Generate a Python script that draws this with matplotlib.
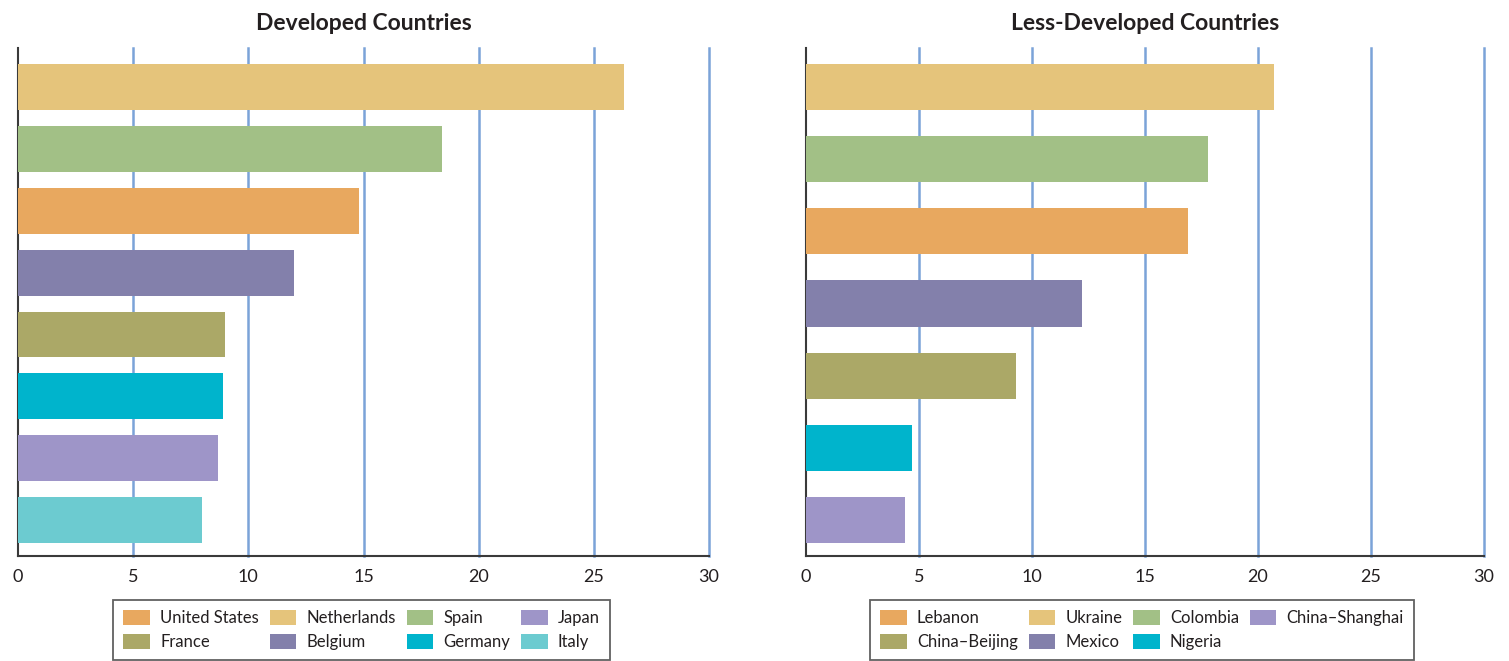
import matplotlib
matplotlib.use("Agg")
import matplotlib.pyplot as plt
from matplotlib.patches import Patch

plt.rcParams['font.family'] = ['Lato', 'DejaVu Sans']

# Data (top to bottom)
dev_countries = ["Netherlands", "Spain", "United States", "Belgium", "France", "Germany", "Japan", "Italy"]
dev_values = [26.3, 18.4, 14.8, 12.0, 9.0, 8.9, 8.7, 8.0]
less_countries = ["Ukraine", "Colombia", "Lebanon", "Mexico", "China\u2013Beijing", "Nigeria", "China\u2013Shanghai"]
less_values = [20.7, 17.8, 16.9, 12.2, 9.3, 4.7, 4.4]

dev_legend_order = ["United States", "France", "Netherlands", "Belgium", "Spain", "Germany", "Japan", "Italy"]
less_legend_order = ["Lebanon", "China\u2013Beijing", "Ukraine", "Mexico", "Colombia", "Nigeria", "China\u2013Shanghai"]

colors = {
    "United States": "#E8A85F", "Lebanon": "#E8A85F",
    "Netherlands": "#E5C47B", "Ukraine": "#E5C47B",
    "Spain": "#A2C086", "Colombia": "#A2C086",
    "Japan": "#9E95C8", "China\u2013Shanghai": "#9E95C8",
    "France": "#ABA867", "China\u2013Beijing": "#ABA867",
    "Belgium": "#8380AB", "Mexico": "#8380AB",
    "Germany": "#00B4CC", "Nigeria": "#00B4CC",
    "Italy": "#6CCBD0",
}
ticks = [0, 5, 10, 15, 20, 25, 30]
grid_color = "#7BA3D8"
text_color = "#231F20"

W, H = 1509, 661
fig = plt.figure(figsize=(W / 100, H / 100), dpi=100)

def make_panel(rect, names, values, title, height, ylim, legend_names, legend_center):
    ax = fig.add_axes(rect)
    ypos = list(range(len(names)))
    ax.barh(ypos, values, height=height, color=[colors[n] for n in names], zorder=3)
    ax.set_xlim(0, 30)
    ax.set_ylim(*ylim)
    ax.set_yticks([])
    ax.set_xticks(ticks)
    ax.set_xticklabels([str(t) for t in ticks], fontsize=13, color=text_color)
    ax.tick_params(axis='x', length=0, pad=9)
    for t in ticks[1:]:
        ax.axvline(t, color=grid_color, lw=1.8, zorder=1, clip_on=False)
    for s in ["top", "right"]:
        ax.spines[s].set_visible(False)
    ax.spines["left"].set_color("#3a3a3a")
    ax.spines["bottom"].set_color("#3a3a3a")
    ax.spines["left"].set_linewidth(1.5)
    ax.spines["bottom"].set_linewidth(1.5)
    ax.set_title(title, fontsize=16.5, fontweight='bold', color=text_color, pad=13)
    handles = [Patch(facecolor=colors[n], edgecolor='none') for n in legend_names]
    leg = fig.legend(handles, legend_names, loc='upper center', bbox_to_anchor=legend_center,
                     ncol=4, fontsize=12, frameon=True, fancybox=False,
                     handlelength=1.6, handleheight=1.0, handletextpad=0.6,
                     columnspacing=0.65, labelspacing=0.45, borderpad=0.6,
                     borderaxespad=0)
    leg.get_frame().set_edgecolor("#3a3a3a")
    leg.get_frame().set_linewidth(1.3)
    for t in leg.get_texts():
        t.set_color(text_color)
    return ax

top = 1 - 48 / H
bottom = 1 - 556 / H
make_panel([18 / W, bottom, (709 - 18) / W, top - bottom], dev_countries, dev_values,
           "Developed Countries", 0.74, (7.58, -0.63), dev_legend_order,
           (361.5 / W, 1 - 600 / H))
make_panel([806 / W, bottom, (1484 - 806) / W, top - bottom], less_countries, less_values,
           "Less-Developed Countries", 0.64, (6.5, -0.54), less_legend_order,
           (1142 / W, 1 - 600 / H))

fig.savefig("out.png", dpi=100)
